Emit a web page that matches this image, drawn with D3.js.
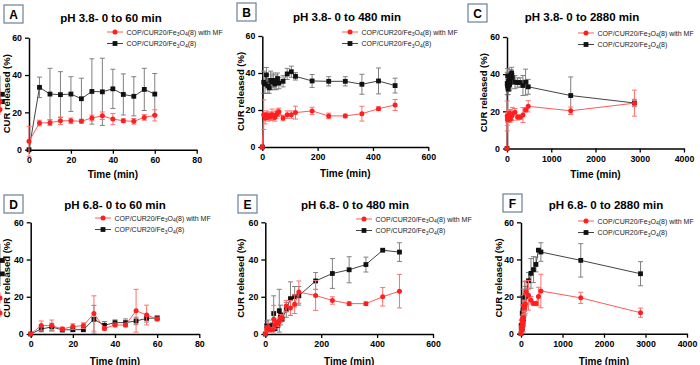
<!DOCTYPE html>
<html>
<head>
<meta charset="utf-8">
<script src="https://cdn.jsdelivr.net/npm/d3@7"></script>
<style>
  body { margin: 0; background: #fff; }
  svg { display: block; font-family: "Liberation Sans", Arial, sans-serif; }
</style>
</head>
<body>
<svg id="chart" width="700" height="365"></svg>
<script>
// sampling times (min)
const timesShort = [0, 5, 10, 15, 20, 25, 30, 35, 40, 45, 50, 55, 60];
const timesLong = timesShort.concat([75, 90, 105, 120, 180, 240, 300, 360, 420, 480]);
const timesFull = timesLong.concat([1440, 2880]);

// pH 3.8, 0-60 min
const aRed = [4.5, 14.3, 14.5, 15.5, 15.5, 15.2, 17, 18.2, 16.4, 15.5, 15.2, 17.3, 18.4];
const aRedErr = [8, 1.5, 1.5, 2, 1.5, 1, 1.5, 2, 3, 1, 1.5, 1.5, 3];
const aBlack = [0, 33.4, 29.8, 29.5, 29.8, 27.3, 31.2, 31, 32.6, 29.6, 28.6, 32.3, 29.8];
const aBlackErr = [0, 5.5, 13.8, 12.3, 9.3, 11, 17.5, 18, 10.5, 11, 10.5, 11.3, 11];

// pH 3.8, 0-2880 min (panel B uses the first 23 points)
const bcRed = [0, 17.5, 15.5, 17.5, 16, 17, 16.5, 17.5, 17, 16, 17.5, 18.5, 19, 15.7, 17.5, 17.5, 18.6, 19.5, 16.8, 16.8, 18, 20.7, 22.7, 20.3, 24.4];
const bcRedErr = [0, 8, 3, 2, 2, 2, 2, 3, 2, 2, 2, 2, 2, 1.5, 2, 2, 3.5, 2, 1.5, 1, 4, 1, 3, 2, 7];
const bcBlack = [0, 35, 34, 39, 33, 32, 36, 35, 36, 34, 35, 37, 34.5, 35.5, 39.5, 40.7, 38.2, 35.7, 35.5, 35.5, 33.9, 35.7, 33.2, 28.5, 24.5];
const bcBlackErr = [0, 6, 5, 4, 4, 3, 5, 4, 4, 3, 4, 3, 3, 3, 3, 3, 2, 3.5, 2.5, 2.5, 5.4, 7, 4, 10, 2];

// pH 6.8, 0-60 min
const dRed = [0, 4.5, 4.5, 2.7, 4, 4.5, 11, 3, 4.8, 4.8, 12.5, 10.2, 8];
const dRedErr = [0, 2.5, 3, 1, 1.5, 1.5, 9.5, 1, 1, 1, 11.5, 5.3, 1];
const dBlack = [0, 2.7, 3.8, 2.2, 2.3, 2.3, 7.9, 4.7, 6.1, 6.1, 7, 8.4, 8.6];
const dBlackErr = [0, 1.5, 2, 1, 1, 1, 7.5, 2, 1.5, 2, 2, 2, 1];

// pH 6.8, 0-2880 min (panel E uses the first 23 points)
const efRed = [0, 2.7, 3.8, 2.2, 2.3, 2.3, 7.9, 4.7, 6.1, 6.1, 7, 8.4, 8.6, 15, 14, 16, 22.5, 20.7, 18, 16.3, 16.3, 20, 23, 19.3, 11.3];
const efRedErr = [0, 1.5, 2, 1, 1, 1, 7.5, 2, 1.5, 2, 2, 2, 1, 3, 4, 5, 6, 8, 2, 1, 1, 5, 9, 3, 2.5];
const efBlack = [0, 4.5, 4.5, 2.7, 4, 4.5, 11, 3, 4.8, 4.8, 12.5, 10.2, 8, 13, 19, 20, 20.5, 28.5, 32.5, 34.5, 37.3, 45, 44, 39.5, 32.3];
const efBlackErr = [0, 2.5, 3, 1, 1.5, 1.5, 9.5, 1, 1, 1, 11.5, 5.3, 1, 4, 9, 5.5, 5, 4.5, 8, 7, 4, 0.5, 5, 9, 6.5];

const yTicks = [0, 20, 40, 60];
const xTicksShort = [0, 20, 40, 60, 80];
const xTicksLong = [0, 200, 400, 600];
const xTicksFull = [0, 1000, 2000, 3000, 4000];

const legendRed = ["COP/CUR20/Fe", "3", "O", "4", "(8) with MF"];
const legendBlack = ["COP/CUR20/Fe", "3", "O", "4", "(8)"];

const RED = "#ff1f1f";
const BLACK = "#111";

const panels = [
    { letter: "A", title: "pH 3.8- 0 to 60 min", times: timesShort, red: aRed, redErr: aRedErr, black: aBlack, blackErr: aBlackErr,
      xMax: 80, xTicks: xTicksShort, px: [29, 196.7], py: [149.7, 37.7], box: [4, 5], titleX: 111, titleY: 18, legX: 115, legY: 32, yLabX: 6, xLabY: 174 },
    { letter: "B", title: "pH 3.8- 0 to 480 min", times: timesLong, red: bcRed, redErr: bcRedErr, black: bcBlack, blackErr: bcBlackErr,
      xMax: 600, xTicks: xTicksLong, px: [262.3, 428.3], py: [147, 36], box: [237, 3], titleX: 347, titleY: 17, legX: 350, legY: 32, yLabX: 240, xLabY: 173 },
    { letter: "C", title: "pH 3.8- 0 to 2880 min", times: timesFull, red: bcRed, redErr: bcRedErr, black: bcBlack, blackErr: bcBlackErr,
      xMax: 4000, xTicks: xTicksFull, px: [507, 684], py: [148.5, 37], box: [468, 4], titleX: 582, titleY: 17, legX: 586, legY: 33, yLabX: 483, xLabY: 174 },
    { letter: "D", title: "pH 6.8- 0 to 60 min", times: timesShort, red: dRed, redErr: dRedErr, black: dBlack, blackErr: dBlackErr,
      xMax: 80, xTicks: xTicksShort, px: [30.7, 199.3], py: [334, 222.3], box: [4, 195], titleX: 115, titleY: 205, legX: 103, legY: 218, yLabX: 6, xLabY: 361 },
    { letter: "E", title: "pH 6.8- 0 to 480 min", times: timesLong, red: efRed, redErr: efRedErr, black: efBlack, blackErr: efBlackErr,
      xMax: 600, xTicks: xTicksLong, px: [265.3, 433], py: [334, 222.3], box: [238, 195], titleX: 355, titleY: 205, legX: 364, legY: 219, yLabX: 240, xLabY: 361 },
    { letter: "F", title: "pH 6.8- 0 to 2880 min", times: timesFull, red: efRed, redErr: efRedErr, black: efBlack, blackErr: efBlackErr,
      xMax: 4000, xTicks: xTicksFull, px: [521, 687], py: [333.7, 222.3], box: [503, 194], titleX: 606, titleY: 205, legX: 586, legY: 221, yLabX: 498, xLabY: 361 },
];

const svg = d3.select("#chart");

function legendText(g, parts, x, y) {
    const t = g.append("text")
        .attr("x", x).attr("y", y + 2.5)
        .attr("font-size", 7).attr("fill", "#222");
    parts.forEach((p, i) => {
        const sub = i === 1 || i === 3;
        t.append("tspan")
            .attr("font-size", sub ? 5 : 7)
            .attr("dy", sub ? 1.5 : (i > 0 ? -1.5 : 0))
            .text(p);
    });
}

function drawSeries(g, x, y, times, values, errs, color, lineColor, errColor, square) {
    const pts = values.map((v, i) => ({ t: times[i], v, e: errs[i] }));

    const eb = g.append("g").attr("stroke", errColor).attr("stroke-width", 1);
    pts.filter((d) => d.e > 0).forEach((d) => {
        const cx = x(d.t);
        eb.append("line").attr("x1", cx).attr("x2", cx).attr("y1", y(d.v - d.e)).attr("y2", y(d.v + d.e));
        eb.append("line").attr("x1", cx - 2.5).attr("x2", cx + 2.5).attr("y1", y(d.v + d.e)).attr("y2", y(d.v + d.e));
        eb.append("line").attr("x1", cx - 2.5).attr("x2", cx + 2.5).attr("y1", y(d.v - d.e)).attr("y2", y(d.v - d.e));
    });

    g.append("path")
        .datum(pts)
        .attr("fill", "none")
        .attr("stroke", lineColor)
        .attr("stroke-width", 1)
        .attr("d", d3.line().x((d) => x(d.t)).y((d) => y(d.v)));

    if (square) {
        g.selectAll(null).data(pts).enter().append("rect")
            .attr("x", (d) => x(d.t) - 2.4).attr("y", (d) => y(d.v) - 2.4)
            .attr("width", 4.8).attr("height", 4.8)
            .attr("fill", color);
    } else {
        g.selectAll(null).data(pts).enter().append("circle")
            .attr("cx", (d) => x(d.t)).attr("cy", (d) => y(d.v))
            .attr("r", 2.5)
            .attr("fill", color);
    }
}

function drawPanel(p) {
    const g = svg.append("g");
    const x = d3.scaleLinear().domain([0, p.xMax]).range(p.px);
    const y = d3.scaleLinear().domain([0, 60]).range(p.py);

    // letter box
    g.append("rect")
        .attr("x", p.box[0]).attr("y", p.box[1])
        .attr("width", 19).attr("height", 18)
        .attr("fill", "#fff").attr("stroke", "#6a8198").attr("stroke-width", 1.2);
    g.append("text")
        .attr("x", p.box[0] + 9.5).attr("y", p.box[1] + 9.5)
        .attr("text-anchor", "middle").attr("dominant-baseline", "central")
        .attr("font-size", 12).attr("font-weight", "bold")
        .text(p.letter);

    g.append("text")
        .attr("x", p.titleX).attr("y", p.titleY)
        .attr("text-anchor", "middle").attr("dominant-baseline", "central")
        .attr("font-size", 11.5).attr("font-weight", "bold")
        .text(p.title);

    // axes
    const xAxis = g.append("g")
        .attr("transform", `translate(0,${y(0)})`)
        .call(d3.axisBottom(x).tickValues(p.xTicks).tickFormat(d3.format("d")).tickSize(4).tickSizeOuter(0));
    const yAxis = g.append("g")
        .attr("transform", `translate(${x(0)},0)`)
        .call(d3.axisLeft(y).tickValues(yTicks).tickSize(4).tickSizeOuter(0));
    [xAxis, yAxis].forEach((a) => {
        a.select(".domain").attr("stroke", "#000").attr("stroke-width", 1.5);
        a.selectAll(".tick line").attr("stroke", "#000").attr("stroke-width", 1.3);
        a.selectAll(".tick text")
            .attr("font-size", 8.8).attr("font-weight", "bold")
            .attr("font-family", "Liberation Sans, Arial, sans-serif").attr("fill", "#000");
    });

    g.append("text")
        .attr("x", (p.px[0] + p.px[1]) / 2).attr("y", p.xLabY)
        .attr("text-anchor", "middle").attr("dominant-baseline", "central")
        .attr("font-size", 10).attr("font-weight", "bold")
        .text("Time (min)");
    g.append("text")
        .attr("transform", `translate(${p.yLabX},${(p.py[0] + p.py[1]) / 2}) rotate(-90)`)
        .attr("text-anchor", "middle").attr("dominant-baseline", "central")
        .attr("font-size", 9.5).attr("font-weight", "bold")
        .text("CUR released (%)");

    // data
    drawSeries(g, x, y, p.times, p.black, p.blackErr, BLACK, "#444", "#808080", true);
    drawSeries(g, x, y, p.times, p.red, p.redErr, RED, "#ff5a5a", "#ff7070", false);

    // legend
    const lg = g.append("g");
    [[legendRed, RED, "#ff5a5a", false], [legendBlack, BLACK, "#444", true]].forEach(([parts, c, lc, sq], i) => {
        const ly = p.legY + i * 11.5;
        lg.append("line")
            .attr("x1", p.legX - 8).attr("x2", p.legX + 8).attr("y1", ly).attr("y2", ly)
            .attr("stroke", lc).attr("stroke-width", 1);
        if (sq) {
            lg.append("rect").attr("x", p.legX - 2.4).attr("y", ly - 2.4).attr("width", 4.8).attr("height", 4.8).attr("fill", c);
        } else {
            lg.append("circle").attr("cx", p.legX).attr("cy", ly).attr("r", 2.5).attr("fill", c);
        }
        legendText(lg, parts, p.legX + 11.5, ly);
    });
}

panels.forEach(drawPanel);
</script>
</body>
</html>
